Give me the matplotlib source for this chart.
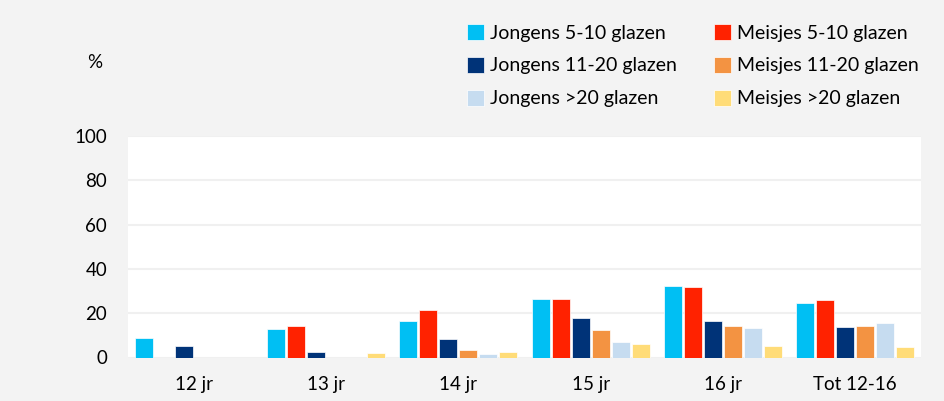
import matplotlib
matplotlib.use("Agg")
import matplotlib.pyplot as plt
import numpy as np

plt.rcParams['font.family'] = ['Lato', 'DejaVu Sans']

categories = ["12 jr", "13 jr", "14 jr", "15 jr", "16 jr", "Tot 12-16"]
series_names = ["Jongens 5-10 glazen", "Meisjes 5-10 glazen",
                "Jongens 11-20 glazen", "Meisjes 11-20 glazen",
                "Jongens >20 glazen", "Meisjes >20 glazen"]
jongens_5_10 = [8.7, 13.0, 16.7, 26.6, 32.1, 24.7]
meisjes_5_10 = [0.0, 14.0, 21.6, 26.5, 31.9, 26.1]
jongens_11_20 = [5.0, 2.7, 8.3, 18.0, 16.6, 13.9]
meisjes_11_20 = [0.0, 0.0, 3.2, 12.2, 14.2, 14.2]
jongens_20 = [0.0, 0.0, 1.7, 7.2, 13.1, 15.8]
meisjes_20 = [0.0, 2.1, 2.3, 6.3, 5.4, 4.8]
series = [jongens_5_10, meisjes_5_10, jongens_11_20, meisjes_11_20, jongens_20, meisjes_20]
colors = ["#00bff3", "#ff2200", "#003378", "#f39342", "#c6dcf0", "#ffdc78"]
yticks = [0, 20, 40, 60, 80, 100]

fig = plt.figure(figsize=(9.44, 4.01), dpi=100)
fig.patch.set_facecolor("#f3f3f3")
ax = fig.add_axes([128/944, 1-357.5/401, (921-128)/944, (357.5-136)/401])
ax.set_facecolor("white")

x = np.arange(len(categories))
slot = 20/132
handles = []
for i, (vals, c, name) in enumerate(zip(series, colors, series_names)):
    h = ax.bar(x + (i - 2.5) * slot, vals, width=slot*0.9, color=c,
               edgecolor="white", linewidth=0.5, label=name, zorder=3)
    handles.append(h)

ax.set_xlim(-0.5, len(categories) - 0.5)
ax.set_ylim(0, 100)
ax.set_yticks(yticks)
ax.set_yticklabels([str(v) for v in yticks], fontsize=13.5)
ax.set_xticks(x)
ax.set_xticklabels(categories, fontsize=13.5)
ax.tick_params(length=0)
ax.tick_params(axis='y', pad=15)
ax.tick_params(axis='x', pad=13)
for s in ax.spines.values():
    s.set_visible(False)
ax.yaxis.grid(True, color="#f0f0f0", linewidth=1.5, zorder=0)
ax.set_axisbelow(True)

fig.text(95/944, 1-62/401, "%", fontsize=13.5, ha="center", va="center")

order = [0, 2, 4, 1, 3, 5]
leg = fig.legend([handles[i] for i in order], [series_names[i] for i in order],
                 ncol=2, loc="upper left", bbox_to_anchor=(467/944, 1-24/401),
                 frameon=False, fontsize=14, handlelength=0.88, handleheight=0.88,
                 handletextpad=0.3, columnspacing=1.9, labelspacing=0.78,
                 borderaxespad=0, borderpad=0)

fig.savefig("out.png", dpi=100, facecolor=fig.get_facecolor())
